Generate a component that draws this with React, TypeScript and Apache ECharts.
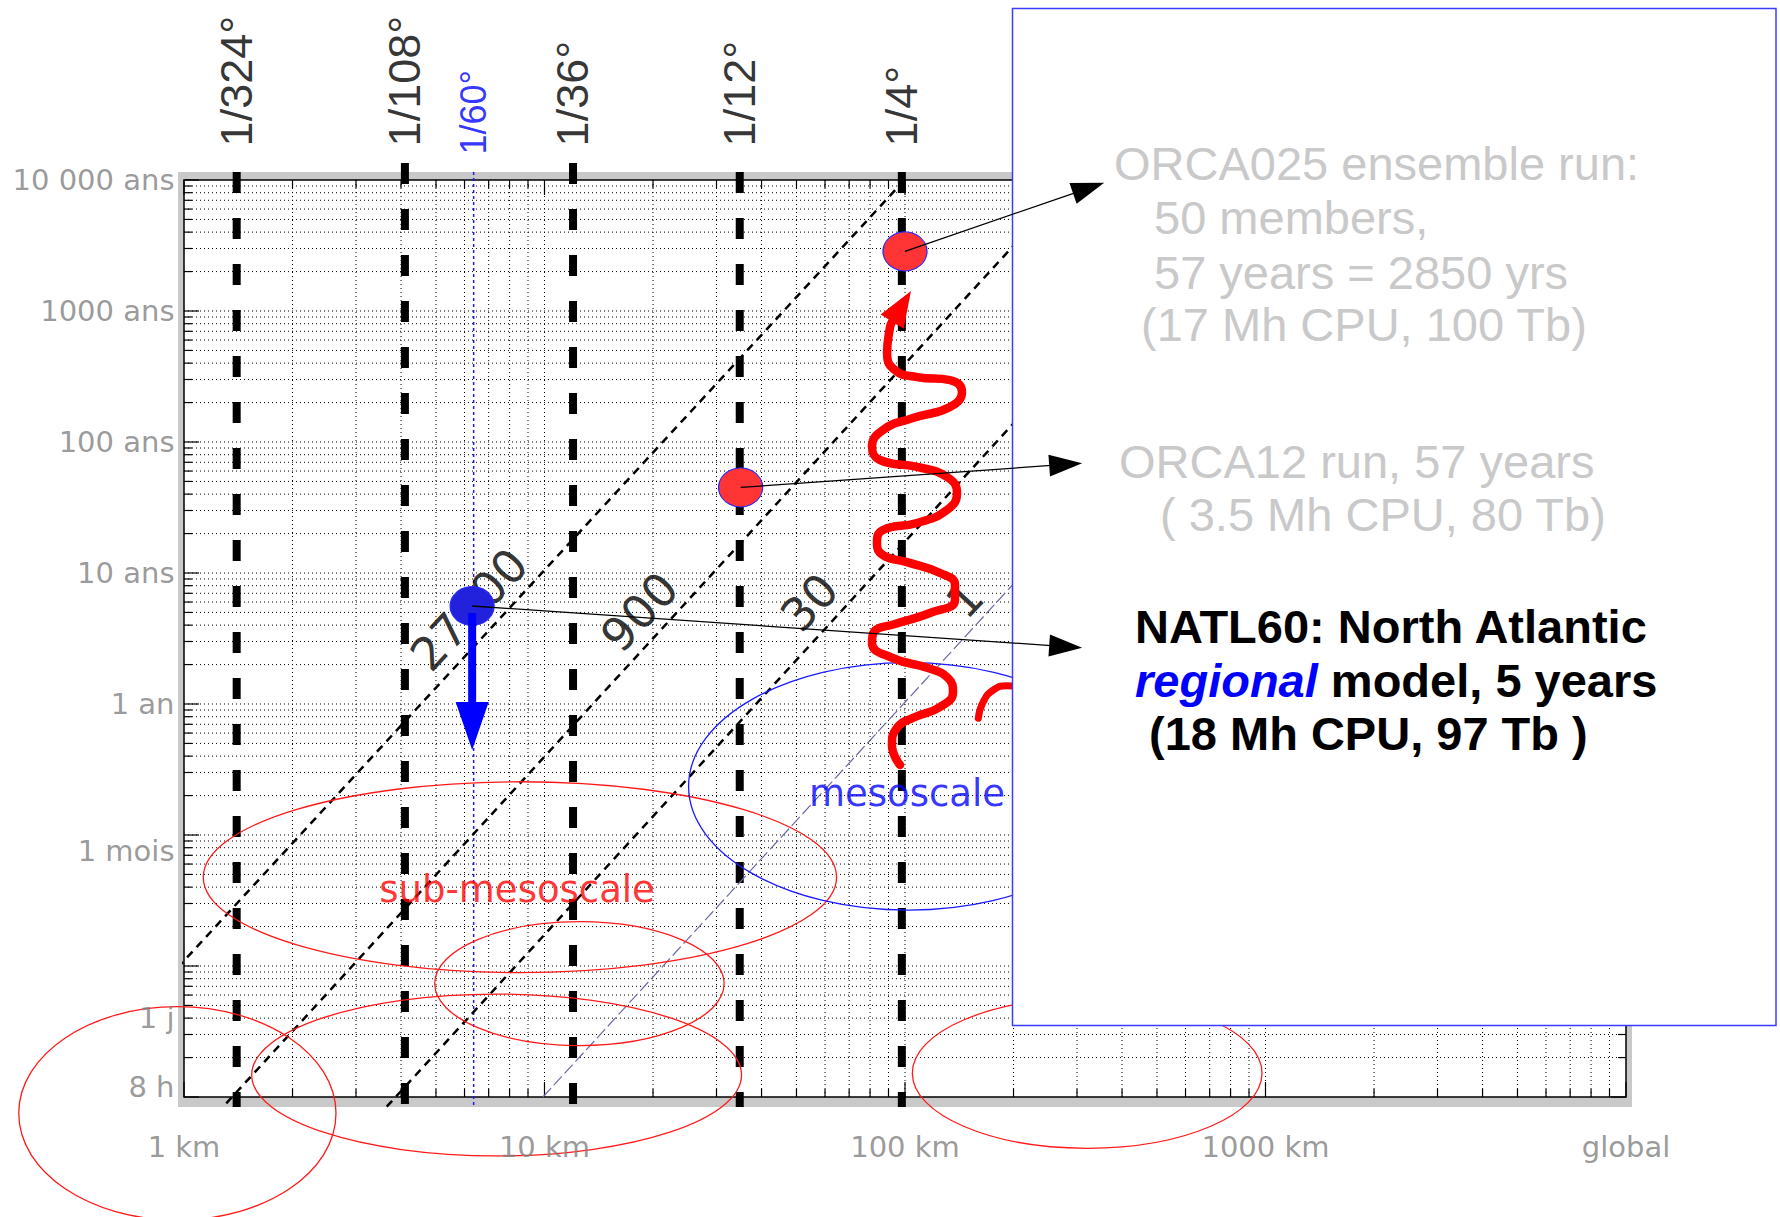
import React, { useEffect, useRef } from 'react';
import * as echarts from 'echarts';

// ---------- axes ----------
const X_MIN = 1;
const X_MAX = 10000;
const Y_MIN = 0.001;
const Y_MAX = 10000;

const xTickValues = [1, 10, 100, 1000, 10000];
const xTickLabels = ['1 km', '10 km', '100 km', '1000 km', 'global'];
const yTickValues = [10000, 1000, 100, 10, 1, 0.075, 0.004, 0.0012];
const yTickLabels = ['10 000 ans', '1000 ans', '100 ans', '10 ans', '1 an', '1 mois', '1 j', '8 h'];

// ---------- model resolutions (vertical dashed lines) ----------
const resLabels = ['1/324°', '1/108°', '1/36°', '1/12°', '1/4°'];
const resKm = [1.4, 4.1, 12, 34.8, 98];
const resLineTop = [11500, 13500, 13500, 11500, 11500];
const resLineBottom = 0.00084;
const resLabelBaseY = 17900;
const natlResLabel = '1/60°';
const natlResKm = 6.36;
const natlResLabelBaseY = 15500;

// ---------- cost lines ----------
const costLabels = ['27000', '900', '30', '1'];
const costStartKm = [0.96, 1.31, 3.65, 9.9];
const costStartYears = [0.0097, 0.000895, 0.000843, 0.001];
const costEndKm = [99, 294, 832, 2130];
const costEndYears = [9800, 10000, 10000, 10000];
const costLabelKm = [6.2, 18.4, 54.5, 147];
const costLabelYears = [5.2, 5.0, 5.9, 6.2];

// ---------- model runs ----------
const runNames = ['ORCA025', 'ORCA12', 'NATL60'];
const runKm = [100, 35, 6.3];
const runYears = [2850, 45, 5.6];
const runColors = ['#ff3434', '#ff3434', '#2222dd'];
const runArrowTipKm = [357, 310, 310];
const runArrowTipYears = [9540, 68.8, 2.69];
const natlArrowFrom = [6.3, 4.95];
const natlArrowTo = [6.3, 0.446];

// ---------- scale regimes ----------
const regimeLabels = ['sub-mesoscale', 'mesoscale'];
const regimeKm = [8.42, 101.6];
const regimeYears = [0.038, 0.2056];
// ellipses: [km left, km right, years top, years bottom]
const redEllipses = [
  [1.131, 64.6, 0.255, 0.0089],
  [4.96, 31.5, 0.0218, 0.00247],
  [1.541, 35.2, 0.00611, 0.000355],
  [0.348, 2.64, 0.00489, 0.000115],
  [104.8, 978, 0.0057, 0.000406],
];
const blueEllipses = [[25.1, 415.6, 2.07, 0.0267]];

// ---------- wavy red arrow ----------
const squiggleKm = [92.0, 90.9, 89.2, 93.8, 108, 133.3, 143.9, 133.3, 105.2, 86.9, 81.0, 85.2, 108, 130.8, 139.4, 130.8, 108, 86.9, 83.6, 86.9, 101.3, 125.1, 137.6, 137.6, 117.3, 93.8, 82.0, 81.0, 92.6, 115.8, 131.6, 135.9, 125.1, 106.6, 95.0, 92.0, 96.9];
const squiggleYears = [824, 755, 478, 354, 313, 297, 241, 185, 152.5, 123.5, 91.6, 72.9, 64.5, 54.1, 40.8, 30.3, 24.1, 21.3, 16.9, 13.7, 12.1, 10.0, 8.1, 6.22, 4.95, 4.08, 3.54, 2.92, 2.24, 1.88, 1.58, 1.235, 0.949, 0.796, 0.656, 0.486, 0.342];
const squiggleHead = [92.0, 824, 103.9, 1421];
const arcKm = [159.7, 164.9, 175.8, 191.5, 208.5];
const arcYears = [0.778, 1.041, 1.279, 1.38, 1.349];

// ---------- helpers ----------
const decadeTicks = (lo: number, hi: number) => {
  const out: { v: number; major: boolean }[] = [];
  for (let e = lo; e < hi; e++) for (let k = 1; k <= 9; k++) out.push({ v: k * Math.pow(10, e), major: k === 1 });
  out.push({ v: Math.pow(10, hi), major: true });
  return out;
};
const xGrid = decadeTicks(0, 4);
const yGrid = decadeTicks(-3, 4);

const gridRender = (params: any, api: any) => {
  const cs = params.coordSys;
  const x0 = cs.x, y0 = cs.y, x1 = cs.x + cs.width, y1 = cs.y + cs.height;
  const ch: any[] = [];
  const band = '#c9c9c9';
  ch.push({ type: 'rect', shape: { x: x0 - 6, y: y0 - 8, width: cs.width + 12, height: 8 }, style: { fill: band } });
  ch.push({ type: 'rect', shape: { x: x0 - 6, y: y1, width: cs.width + 12, height: 10 }, style: { fill: band } });
  ch.push({ type: 'rect', shape: { x: x0 - 6, y: y0, width: 6, height: cs.height }, style: { fill: band } });
  ch.push({ type: 'rect', shape: { x: x1, y: y0, width: 6, height: cs.height }, style: { fill: band } });
  ch.push({ type: 'rect', shape: { x: x0, y: y0, width: cs.width, height: cs.height }, style: { fill: '#fff' } });
  const dot = { stroke: '#000', lineWidth: 1, lineDash: [1, 3] };
  const tick = { stroke: '#000', lineWidth: 1.2 };
  xGrid.forEach((t) => {
    const px = api.coord([t.v, 1])[0];
    if (px > x0 + 1 && px < x1 - 1) ch.push({ type: 'line', shape: { x1: px, y1: y0, x2: px, y2: y1 }, style: dot });
    const len = t.major ? 15 : 8;
    ch.push({ type: 'line', shape: { x1: px, y1: y1, x2: px, y2: y1 - len }, style: tick });
    ch.push({ type: 'line', shape: { x1: px, y1: y0, x2: px, y2: y0 + len }, style: tick });
  });
  yGrid.forEach((t) => {
    const py = api.coord([1, t.v])[1];
    if (py > y0 + 1 && py < y1 - 1) ch.push({ type: 'line', shape: { x1: x0, y1: py, x2: x1, y2: py }, style: dot });
    const len = t.major ? 15 : 8;
    ch.push({ type: 'line', shape: { x1: x0, y1: py, x2: x0 + len, y2: py }, style: tick });
    ch.push({ type: 'line', shape: { x1: x1, y1: py, x2: x1 - len, y2: py }, style: tick });
  });
  ch.push({ type: 'rect', shape: { x: x0, y: y0, width: cs.width, height: cs.height }, style: { fill: 'none', stroke: '#000', lineWidth: 1.5 } });
  return { type: 'group', children: ch };
};

const arrowSeries = (data: number[][], color: string, lineWidth: number, headLen: number, headW: number, z: number) => ({
  type: 'custom',
  z,
  silent: true,
  clip: false,
  data,
  encode: { x: [0, 2], y: [1, 3] },
  renderItem: (params: any, api: any) => {
    const p1 = api.coord([api.value(0), api.value(1)]);
    const p2 = api.coord([api.value(2), api.value(3)]);
    const dx = p2[0] - p1[0], dy = p2[1] - p1[1];
    const L = Math.hypot(dx, dy) || 1;
    const ux = dx / L, uy = dy / L;
    const bx = p2[0] - ux * headLen, by = p2[1] - uy * headLen;
    const nx = -uy, ny = ux;
    const children: any[] = [];
    if (lineWidth > 0) {
      children.push({ type: 'line', shape: { x1: p1[0], y1: p1[1], x2: bx + ux * 2, y2: by + uy * 2 }, style: { stroke: color, lineWidth } });
    }
    children.push({
      type: 'polygon',
      shape: { points: [[p2[0], p2[1]], [bx + (nx * headW) / 2, by + (ny * headW) / 2], [bx - (nx * headW) / 2, by - (ny * headW) / 2]] },
      style: { fill: color },
    });
    return { type: 'group', children };
  },
});

const ellipseSeries = (data: number[][], color: string, z: number) => ({
  type: 'custom',
  z,
  silent: true,
  clip: false,
  data,
  encode: { x: [0, 1], y: [2, 3] },
  renderItem: (params: any, api: any) => {
    const a = api.coord([api.value(0), api.value(2)]);
    const b = api.coord([api.value(1), api.value(3)]);
    return {
      type: 'ellipse',
      shape: { cx: (a[0] + b[0]) / 2, cy: (a[1] + b[1]) / 2, rx: Math.abs(b[0] - a[0]) / 2, ry: Math.abs(b[1] - a[1]) / 2 },
      style: { fill: 'none', stroke: color, lineWidth: 1.3 },
    };
  },
});

const labelSeries = (xs: number[], ys: number[], texts: string[], label: any, z = 4) => ({
  type: 'scatter',
  z,
  silent: true,
  clip: false,
  symbolSize: 1,
  itemStyle: { color: 'rgba(0,0,0,0)' },
  data: xs.map((x, i) => ({ value: [x, ys[i]], name: texts[i] })),
  label: { show: true, formatter: (p: any) => p.name, ...label },
});

const GREY_TXT = '#c9c9c9';
const boxFont = '47px "Liberation Sans", Arial, sans-serif';
const boldFont = 'bold 47px "Liberation Sans", Arial, sans-serif';

const option: any = {
  animation: false,
  backgroundColor: '#fff',
  textStyle: { fontFamily: 'DejaVu Sans' },
  grid: { left: 184, top: 180, width: 1442, height: 917, show: false },
  xAxis: {
    type: 'log', logBase: 10, min: X_MIN, max: X_MAX,
    axisLine: { show: false }, axisTick: { show: false }, axisLabel: { show: false }, splitLine: { show: false },
  },
  yAxis: {
    type: 'log', logBase: 10, min: Y_MIN, max: Y_MAX,
    axisLine: { show: false }, axisTick: { show: false }, axisLabel: { show: false }, splitLine: { show: false },
  },
  series: [
    { type: 'custom', z: 1, silent: true, clip: false, data: [[1, 1]], renderItem: gridRender },
    // resolution lines
    ...resKm.map((x, i) => ({
      type: 'line', z: 3, silent: true, clip: false, symbol: 'none',
      data: [[x, resLineTop[i]], [x, resLineBottom]],
      lineStyle: { color: '#000', width: 8, type: [21, 25], cap: 'butt' },
    })),
    {
      type: 'line', z: 3, silent: true, clip: false, symbol: 'none',
      data: [[natlResKm, 11500], [natlResKm, resLineBottom]],
      lineStyle: { color: '#1a1aff', width: 1.5, type: [3, 3] },
    },
    // cost lines
    ...costLabels.map((_, i) => ({
      type: 'line', z: 3, silent: true, clip: false, symbol: 'none',
      data: [[costStartKm[i], costStartYears[i]], [costEndKm[i], costEndYears[i]]],
      lineStyle: i < 3 ? { color: '#000', width: 2.5, type: [8, 6] } : { color: '#6a6aa8', width: 1.2, type: [12, 4] },
    })),
    ellipseSeries(redEllipses, '#ff1a1a', 4),
    ellipseSeries(blueEllipses, '#1a1aff', 4),
    labelSeries(costLabelKm, costLabelYears, costLabels, {
      position: [0, 0], align: 'center', verticalAlign: 'middle', rotate: 47,
      fontFamily: 'DejaVu Sans', fontSize: 46, color: '#000',
    }),
    labelSeries([regimeKm[0]], [regimeYears[0]], [regimeLabels[0]], {
      position: [0, 0], align: 'center', verticalAlign: 'middle', fontFamily: 'DejaVu Sans', fontSize: 37, color: '#ff0000',
    }),
    labelSeries([regimeKm[1]], [regimeYears[1]], [regimeLabels[1]], {
      position: [0, 0], align: 'center', verticalAlign: 'middle', fontFamily: 'DejaVu Sans', fontSize: 37, color: '#0000ff',
    }),
    // axis labels
    labelSeries(yTickValues.map(() => X_MIN), yTickValues, yTickLabels, {
      position: 'left', distance: 9, fontFamily: 'DejaVu Sans', fontSize: 29, color: '#7f7f7f',
    }),
    labelSeries(xTickValues, xTickValues.map(() => Y_MIN), xTickLabels, {
      position: 'bottom', distance: 35, fontFamily: 'DejaVu Sans', fontSize: 29, color: '#7f7f7f',
    }),
    labelSeries(resKm, resKm.map(() => resLabelBaseY), resLabels, {
      position: [0, 0], align: 'left', verticalAlign: 'middle', rotate: 90,
      fontFamily: 'Liberation Sans', fontSize: 45, color: '#000',
    }),
    labelSeries([natlResKm], [natlResLabelBaseY], [natlResLabel], {
      position: [0, 0], align: 'left', verticalAlign: 'middle', rotate: 90,
      fontFamily: 'Liberation Sans', fontSize: 36, color: '#0000ff',
    }),
    // wavy arrow
    {
      type: 'line', z: 5, silent: true, clip: false, symbol: 'none', smooth: 0.5,
      data: squiggleKm.map((x, i) => [x, squiggleYears[i]]),
      lineStyle: { color: '#ff0000', width: 8.5, cap: 'round', join: 'round' },
    },
    {
      type: 'line', z: 5, silent: true, clip: false, symbol: 'none', smooth: 0.5,
      data: arcKm.map((x, i) => [x, arcYears[i]]),
      lineStyle: { color: '#ff0000', width: 7, cap: 'round' },
    },
    arrowSeries([squiggleHead], '#ff0000', 0, 36, 27, 5),
    // runs
    {
      type: 'scatter', z: 6, silent: true, clip: false, symbolSize: [44, 39],
      data: runNames.map((n, i) => ({ name: n, value: [runKm[i], runYears[i]], itemStyle: { color: runColors[i], opacity: 1 } })),
      itemStyle: { borderColor: '#2a2aff', borderWidth: 1.2, opacity: 1 },
    },
    arrowSeries([[natlArrowFrom[0], natlArrowFrom[1], natlArrowTo[0], natlArrowTo[1]]], '#0000ff', 8, 48, 33, 7),
    arrowSeries(runNames.map((_, i) => [runKm[i], runYears[i], runArrowTipKm[i], runArrowTipYears[i]]), '#000', 1.3, 33, 22, 60),
  ],
  graphic: {
    elements: [
      { type: 'rect', z: 50, silent: true, shape: { x: 1012.5, y: 8.5, width: 763.5, height: 1017 }, style: { fill: '#fff', stroke: '#3b3bff', lineWidth: 1.5 } },
      { type: 'text', z: 51, silent: true, x: 1114, y: 163, style: { text: 'ORCA025 ensemble run:', font: boxFont, fill: GREY_TXT, textVerticalAlign: 'middle' } },
      { type: 'text', z: 51, silent: true, x: 1154, y: 217.5, style: { text: '50 members,', font: boxFont, fill: GREY_TXT, textVerticalAlign: 'middle' } },
      { type: 'text', z: 51, silent: true, x: 1154, y: 272.5, style: { text: '57 years = 2850 yrs', font: boxFont, fill: GREY_TXT, textVerticalAlign: 'middle' } },
      { type: 'text', z: 51, silent: true, x: 1141, y: 324.5, style: { text: '(17 Mh CPU, 100 Tb)', font: boxFont, fill: GREY_TXT, textVerticalAlign: 'middle' } },
      { type: 'text', z: 51, silent: true, x: 1119, y: 461, style: { text: 'ORCA12 run, 57 years', font: boxFont, fill: GREY_TXT, textVerticalAlign: 'middle' } },
      { type: 'text', z: 51, silent: true, x: 1160, y: 514.5, style: { text: '( 3.5 Mh CPU, 80 Tb)', font: boxFont, fill: GREY_TXT, textVerticalAlign: 'middle' } },
      { type: 'text', z: 51, silent: true, x: 1135, y: 626, style: { text: 'NATL60: North Atlantic', font: boldFont, fill: '#000', textVerticalAlign: 'middle' } },
      {
        type: 'text', z: 51, silent: true, x: 1135, y: 680,
        style: {
          text: '{r|regional} model, 5 years', font: boldFont, fill: '#000', textVerticalAlign: 'middle',
          rich: { r: { fill: '#0000ff', fontStyle: 'italic', fontWeight: 'bold', fontSize: 47, fontFamily: 'Liberation Sans' } },
        },
      },
      { type: 'text', z: 51, silent: true, x: 1149, y: 733, style: { text: '(18 Mh CPU, 97 Tb )', font: boldFont, fill: '#000', textVerticalAlign: 'middle' } },
    ],
  },
};

export default function App() {
  const ref = useRef<HTMLDivElement>(null);
  useEffect(() => {
    if (!ref.current) return;
    const chart = echarts.init(ref.current, null, { renderer: 'svg' });
    chart.setOption(option);
    return () => chart.dispose();
  }, []);
  return <div ref={ref} style={{ position: 'fixed', left: 0, top: 0, width: 1780, height: 1217, background: '#fff' }} />;
}
